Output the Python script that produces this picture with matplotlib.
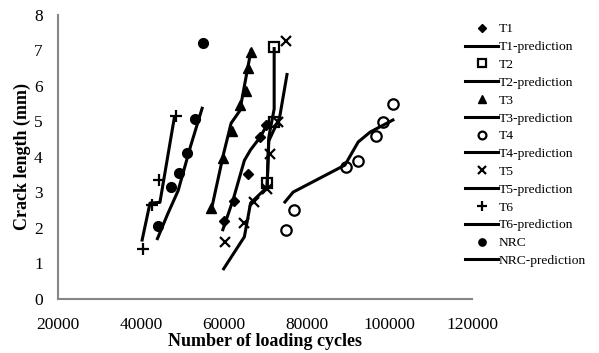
import matplotlib

matplotlib.use('Agg')
import matplotlib.pyplot as plt

plt.rcParams['font.family'] = ['Liberation Serif', 'DejaVu Serif']

# measured crack growth for each specimen (cycles, crack length in mm)
t1_x = [60000, 62400, 65800, 68800, 70300]
t1_y = [2.2, 2.75, 3.52, 4.55, 4.9]
t1_pred_x = [59800, 62300, 65000, 66500, 68800, 70800]
t1_pred_y = [1.95, 2.8, 3.9, 4.2, 4.55, 4.98]

t2_x = [70500, 72200, 72200]
t2_y = [3.27, 4.97, 7.1]
t2_pred_x = [70500, 70900, 72200, 72200]
t2_pred_y = [3.2, 4.55, 5.35, 7.05]

t3_x = [57000, 59800, 62000, 64000, 65300, 65900, 66600]
t3_y = [2.55, 3.98, 4.72, 5.45, 5.85, 6.5, 6.95]
t3_pred_x = [57000, 60000, 61800, 63900, 66600]
t3_pred_y = [2.5, 4.1, 4.95, 5.3, 7.0]

t4_x = [75000, 77000, 89500, 92500, 96800, 98500, 101000]
t4_y = [1.95, 2.5, 3.72, 3.88, 4.6, 4.97, 5.5]
t4_pred_x = [74800, 76800, 89300, 92500, 95400, 100900]
t4_pred_y = [2.73, 3.01, 3.77, 4.42, 4.7, 5.04]

t5_x = [60300, 65000, 67300, 70500, 71200, 73200, 75100]
t5_y = [1.6, 2.15, 2.72, 3.1, 4.07, 4.98, 7.25]
t5_pred_x = [60000, 65000, 66500, 70500, 70900, 73500, 75300]
t5_pred_y = [0.85, 1.75, 2.7, 3.15, 4.45, 5.1, 6.32]

t6_x = [40500, 42700, 44400, 48500]
t6_y = [1.42, 2.65, 3.35, 5.15]
t6_pred_x = [40300, 42200, 44600, 48100]
t6_pred_y = [1.66, 2.7, 2.72, 5.12]

nrc_x = [44150, 47300, 49200, 51200, 53100, 55000]
nrc_y = [2.05, 3.15, 3.55, 4.12, 5.06, 7.22]
nrc_pred_x = [44000, 46500, 49000, 52000, 54800]
nrc_pred_y = [1.7, 2.4, 3.05, 4.3, 5.37]

x_ticks = [20000, 40000, 60000, 80000, 100000, 120000]
y_ticks = [0, 1, 2, 3, 4, 5, 6, 7, 8]

series = [
    ('T1', t1_x, t1_y, t1_pred_x, t1_pred_y, dict(marker='D', ms=5, mfc='black')),
    ('T2', t2_x, t2_y, t2_pred_x, t2_pred_y, dict(marker='s', ms=7.5, mfc='white', mew=1.6)),
    ('T3', t3_x, t3_y, t3_pred_x, t3_pred_y, dict(marker='^', ms=7, mfc='black')),
    ('T4', t4_x, t4_y, t4_pred_x, t4_pred_y, dict(marker='o', ms=7.5, mfc='white', mew=1.6)),
    ('T5', t5_x, t5_y, t5_pred_x, t5_pred_y, dict(marker='x', ms=7.5, mew=1.6)),
    ('T6', t6_x, t6_y, t6_pred_x, t6_pred_y, dict(marker='+', ms=9, mew=1.6)),
    ('NRC', nrc_x, nrc_y, nrc_pred_x, nrc_pred_y, dict(marker='o', ms=7, mfc='black')),
]

fig = plt.figure(figsize=(5.99, 3.53), dpi=100)
ax = fig.add_axes([0.097, 0.153, 0.691, 0.805])

for name, x, y, px, py, mk in series:
    ax.plot(x, y, linestyle='none', color='black', mec='black', label=name, **mk)
    ax.plot(px, py, color='black', lw=2.2, label=name + '-prediction')

ax.set_xlim(20000, 120000)
ax.set_ylim(0, 8)
ax.set_xticks(x_ticks)
ax.set_yticks(y_ticks)
ax.tick_params(length=0, labelsize=12.5)
ax.tick_params(axis='x', pad=13)
ax.tick_params(axis='y', pad=11)
for side in ['top', 'right']:
    ax.spines[side].set_visible(False)
for side in ['left', 'bottom']:
    ax.spines[side].set_color('#868686')
    ax.spines[side].set_linewidth(1.5)

ax.set_xlabel('Number of loading cycles', fontsize=13, fontweight='bold', labelpad=0)
ax.set_ylabel('Crack length (mm)', fontsize=13, fontweight='bold', labelpad=2)

ax.legend(loc='upper left', bbox_to_anchor=(0.768, 0.95), bbox_transform=fig.transFigure,
          frameon=False, fontsize=9.7, handlelength=2.4, handletextpad=0.1,
          labelspacing=0.4, borderaxespad=0, markerscale=0.75)

fig.savefig('out.png', dpi=100)
